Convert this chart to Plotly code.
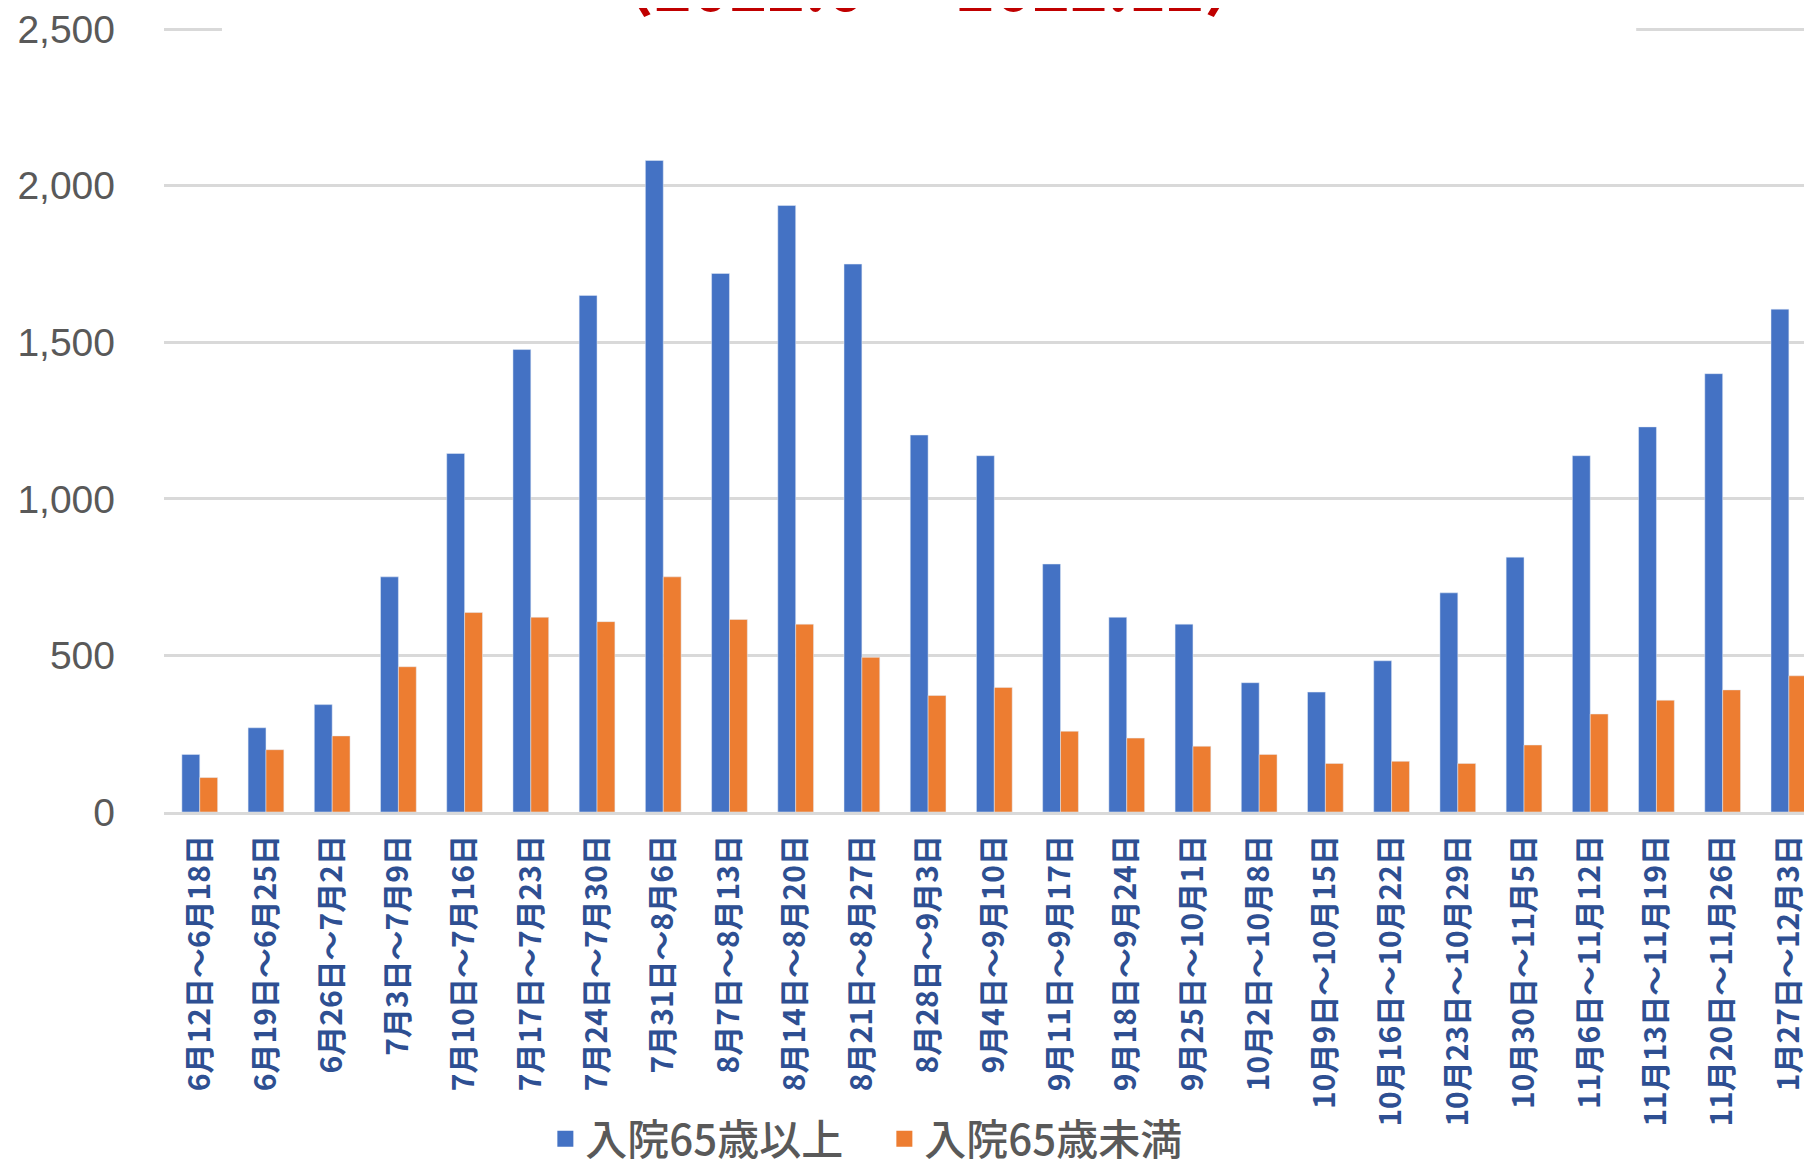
import plotly.graph_objects as go

categories = [
    "6月12日〜6月18日", "6月19日〜6月25日", "6月26日〜7月2日", "7月3日〜7月9日",
    "7月10日〜7月16日", "7月17日〜7月23日", "7月24日〜7月30日", "7月31日〜8月6日",
    "8月7日〜8月13日", "8月14日〜8月20日", "8月21日〜8月27日", "8月28日〜9月3日",
    "9月4日〜9月10日", "9月11日〜9月17日", "9月18日〜9月24日", "9月25日〜10月1日",
    "10月2日〜10月8日", "10月9日〜10月15日", "10月16日〜10月22日", "10月23日〜10月29日",
    "10月30日〜11月5日", "11月6日〜11月12日", "11月13日〜11月19日", "11月20日〜11月26日",
    "1月27日〜12月3日",
]
over65 = [184, 269, 343, 751, 1145, 1477, 1650, 2081, 1720, 1937, 1750, 1204, 1138,
          792, 622, 600, 413, 383, 483, 700, 814, 1138, 1230, 1400, 1606]
under65 = [110, 199, 243, 464, 637, 622, 608, 751, 615, 600, 494, 372, 398,
           258, 236, 210, 184, 155, 162, 155, 214, 313, 357, 390, 435]
series_names = ["入院65歳以上", "入院65歳未満"]
series_colors = ["#4472C4", "#ED7D31"]
title_text = "〈2022.6 ～ 2022.12〉"
y_ticks = [0, 500, 1000, 1500, 2000, 2500]

fig = go.Figure()
fig.add_trace(go.Bar(x=categories, y=over65, name=series_names[0],
                     marker_color=series_colors[0], showlegend=False))
fig.add_trace(go.Bar(x=categories, y=under65, name=series_names[1],
                     marker_color=series_colors[1], showlegend=False))
# legend entries with larger square swatches
for nm, col in zip(series_names, series_colors):
    fig.add_trace(go.Scatter(x=[None], y=[None], mode="markers", name=nm,
                             marker=dict(symbol="square", size=22, color=col)))

fig.update_layout(
    width=1812, height=1165,
    margin=dict(l=156, r=0, t=18, b=355),
    paper_bgcolor="white", plot_bgcolor="white",
    barmode="group", bargap=0.46, bargroupgap=0,
    font=dict(family="Noto Sans CJK JP"),
    showlegend=True,
    legend=dict(orientation="h", x=0.435, xanchor="center", y=-0.418, yanchor="middle",
                font=dict(size=42, color="#595959", family="Noto Sans CJK JP", weight=500),
                itemwidth=30, tracegroupgap=0, entrywidth=294, entrywidthmode="pixels"),
    xaxis=dict(range=[-0.54, 24.47], tickangle=-90, showgrid=False,
               tickfont=dict(size=30, color="#2E4F92", family="Noto Sans CJK JP", weight=700),
               showline=True, linecolor="#D9D9D9", linewidth=3, ticks="",
               ticklabelstandoff=8),
    yaxis=dict(range=[0, 2504], tickvals=y_ticks, tickformat=",",
               showgrid=True, gridcolor="#D9D9D9", gridwidth=3,
               zeroline=False, showline=False, ticklabeloverflow="allow",
               tickfont=dict(size=39, color="#595959", family="Liberation Sans"),
               ticklabelstandoff=48),
    shapes=[dict(type="rect", xref="paper", yref="paper", x0=0.035, x1=0.889,
                 y0=0.98, y1=1.1, fillcolor="white", line=dict(width=0), layer="above")],
    annotations=[dict(text="<b>" + title_text + "</b>", xref="paper", yref="paper",
                      x=0.462, y=1.057, xanchor="center", yanchor="middle", showarrow=False,
                      font=dict(size=64, color="#C00000", family="Noto Sans CJK JP"))],
)

fig.write_html("out.html")
